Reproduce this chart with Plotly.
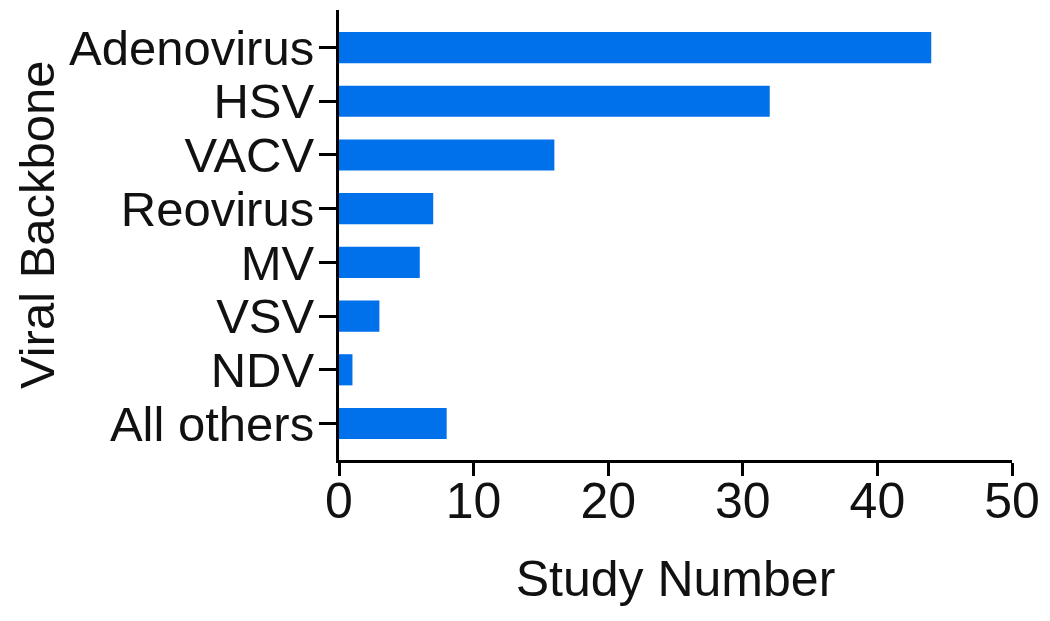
import plotly.graph_objects as go

categories = ["Adenovirus", "HSV", "VACV", "Reovirus", "MV", "VSV", "NDV", "All others"]
values = [44, 32, 16, 7, 6, 3, 1, 8]
x_ticks = [0, 10, 20, 30, 40, 50]

fig = go.Figure(go.Bar(
    x=values, y=categories, orientation="h",
    marker=dict(color="#0070EB", line=dict(width=0)),
    width=0.58,
))

font_family = "Liberation Sans, Arial, sans-serif"
fig.update_layout(
    width=1050, height=621,
    margin=dict(l=331, r=46, t=2, b=169, autoexpand=False),
    plot_bgcolor="white", paper_bgcolor="white",
    font=dict(family=font_family, size=49, color="#111111"),
    showlegend=False,
    annotations=[dict(
        text="Viral Backbone", textangle=-90, showarrow=False,
        xref="paper", yref="paper", x=-0.4487, y=0.522,
        xanchor="center", yanchor="middle", borderpad=0,
        font=dict(family=font_family, size=49, color="#111111"),
    )],
)
fig.update_xaxes(
    range=[0, 50], tickmode="array", tickvals=x_ticks,
    showgrid=False, zeroline=False,
    showline=True, linecolor="black", linewidth=3,
    ticks="outside", ticklen=13, tickwidth=3, tickcolor="black",
    tickfont=dict(size=50), ticklabelstandoff=-18, automargin=False,
    title=dict(text="Study Number", font=dict(size=50), standoff=33),
)
fig.update_yaxes(
    tickmode="array", tickvals=categories, ticktext=categories,
    categoryorder="array", categoryarray=categories,
    autorange=False, range=[7.68, -0.7],
    showgrid=False, zeroline=False,
    showline=True, linecolor="black", linewidth=3,
    ticks="outside", ticklen=17, tickwidth=3, tickcolor="black",
    tickfont=dict(size=49), ticklabelstandoff=-5, automargin=False,
)
fig.write_html("out.html")
